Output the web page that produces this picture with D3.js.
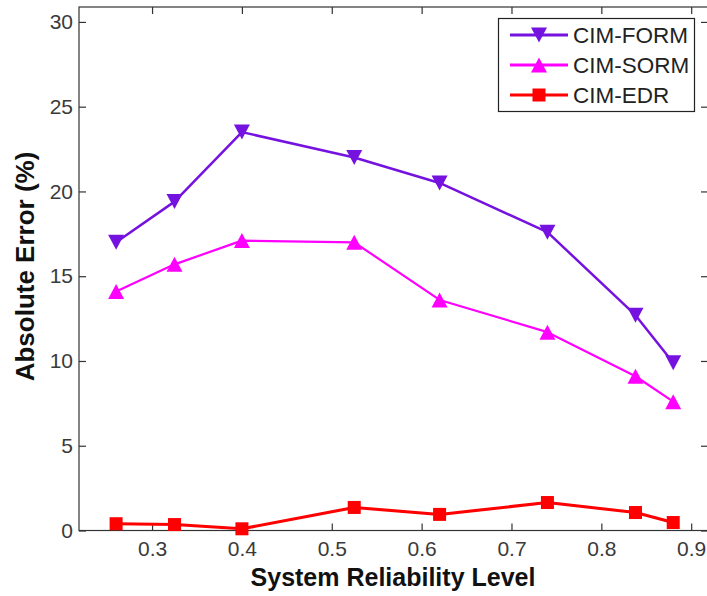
<!DOCTYPE html>
<html>
<head>
<meta charset="utf-8">
<script src="https://cdn.jsdelivr.net/npm/d3@7"></script>
<style>
  html, body { margin: 0; padding: 0; background: #fff; }
  svg { display: block; }
</style>
</head>
<body>
<svg id="chart" width="707" height="596"></svg>
<script>
// ---- data ----
const reliability = [0.26, 0.325, 0.40, 0.525, 0.62, 0.74, 0.838, 0.88];
const cimForm = [17.0, 19.4, 23.5, 22.0, 20.5, 17.6, 12.7, 9.9];
const cimSorm = [14.1, 15.7, 17.1, 17.0, 13.6, 11.7, 9.1, 7.6];
const cimEdr  = [0.4, 0.35, 0.1, 1.36, 0.95, 1.65, 1.06, 0.47];
const seriesNames = ["CIM-FORM", "CIM-SORM", "CIM-EDR"];
const xTicks = [0.3, 0.4, 0.5, 0.6, 0.7, 0.8, 0.9];
const yTicks = [0, 5, 10, 15, 20, 25, 30];

(function () {
const seriesStyle = [
  { values: cimForm, color: "#7512e0", width: 2.5, marker: "down" },
  { values: cimSorm, color: "#ff00ff", width: 2.2, marker: "up" },
  { values: cimEdr,  color: "#ff0000", width: 3,   marker: "square" }
];

const svg = d3.select("#chart");
const mLeft = 79, mRight = 708, mTop = 7, mBottom = 530.5;

const x = d3.scaleLinear().domain([0.2187, 0.9187]).range([mLeft, mRight]);
const y = d3.scaleLinear().domain([0, 30.88]).range([mBottom, mTop]);

const font = "'Liberation Sans', Arial, Helvetica, sans-serif";
const axisColor = "#333";

// frame
svg.append("rect")
  .attr("x", mLeft).attr("y", mTop)
  .attr("width", mRight - mLeft).attr("height", mBottom - mTop)
  .attr("fill", "none").attr("stroke", axisColor).attr("stroke-width", 1.2);

// axes (ticks inside)
const xAxisB = d3.axisBottom(x).tickValues(xTicks).tickSizeInner(-7).tickSizeOuter(0)
  .tickPadding(11).tickFormat(d3.format(".1f"));
const gx = svg.append("g").attr("transform", `translate(0,${mBottom})`).call(xAxisB);
const xAxisT = d3.axisTop(x).tickValues(xTicks).tickSizeInner(-7).tickSizeOuter(0).tickFormat("");
const gxt = svg.append("g").attr("transform", `translate(0,${mTop})`).call(xAxisT);
const yAxisL = d3.axisLeft(y).tickValues(yTicks).tickSizeInner(-7).tickSizeOuter(0).tickPadding(6);
const gy = svg.append("g").attr("transform", `translate(${mLeft},0)`).call(yAxisL);
const yAxisR = d3.axisRight(y).tickValues(yTicks).tickSizeInner(-7).tickSizeOuter(0).tickFormat("");
const gyr = svg.append("g").attr("transform", `translate(${mRight},0)`).call(yAxisR);

[gx, gxt, gy, gyr].forEach(g => {
  g.select(".domain").remove();
  g.selectAll(".tick line").attr("stroke", axisColor).attr("stroke-width", 1.2);
  g.selectAll(".tick text").attr("fill", "#3a3a3a").style("font-family", font)
    .style("font-size", "21px");
});
gx.selectAll(".tick text").attr("dy", "0.68em");

// axis titles
svg.append("text")
  .attr("x", 393).attr("y", 586)
  .attr("text-anchor", "middle")
  .style("font-family", font).style("font-size", "25px").style("font-weight", "bold")
  .attr("fill", "#111")
  .text("System Reliability Level");

svg.append("text")
  .attr("transform", `translate(34,${(150 + 383) / 2}) rotate(-90)`)
  .attr("text-anchor", "middle")
  .style("font-family", font).style("font-size", "26px").style("font-weight", "bold")
  .attr("fill", "#111")
  .text("Absolute Error (%)");

// markers
function drawMarker(g, type, cx, cy, color) {
  if (type === "square") {
    const s = 13;
    g.append("rect").attr("x", cx - s / 2).attr("y", cy - s / 2)
      .attr("width", s).attr("height", s).attr("fill", color);
  } else {
    const w = 16, h = 15;
    const pts = type === "down"
      ? [[cx - w / 2, cy - h / 2], [cx + w / 2, cy - h / 2], [cx, cy + h / 2]]
      : [[cx - w / 2, cy + h / 2], [cx + w / 2, cy + h / 2], [cx, cy - h / 2]];
    g.append("polygon").attr("points", pts.map(p => p.join(",")).join(" "))
      .attr("fill", color);
  }
}

const line = d3.line().x((d, i) => x(reliability[i])).y(d => y(d));

seriesStyle.forEach(s => {
  const g = svg.append("g");
  g.append("path").datum(s.values).attr("d", line)
    .attr("fill", "none").attr("stroke", s.color).attr("stroke-width", s.width)
    .attr("stroke-linejoin", "round");
  s.values.forEach((v, i) => drawMarker(g, s.marker, x(reliability[i]), y(v), s.color));
});

// legend
const lg = svg.append("g");
lg.append("rect").attr("x", 498.5).attr("y", 18.5).attr("width", 196).attr("height", 93)
  .attr("fill", "#fff").attr("stroke", "#222").attr("stroke-width", 1.2);
seriesStyle.forEach((s, i) => {
  const cy = 35 + i * 30;
  lg.append("line").attr("x1", 510).attr("x2", 568).attr("y1", cy).attr("y2", cy)
    .attr("stroke", s.color).attr("stroke-width", 3);
  drawMarker(lg, s.marker, 539, cy, s.color);
  lg.append("text").attr("x", 573).attr("y", cy).attr("dy", "0.36em")
    .style("font-family", font).style("font-size", "22.5px").attr("fill", "#222")
    .text(seriesNames[i]);
});
})();
</script>
</body>
</html>
